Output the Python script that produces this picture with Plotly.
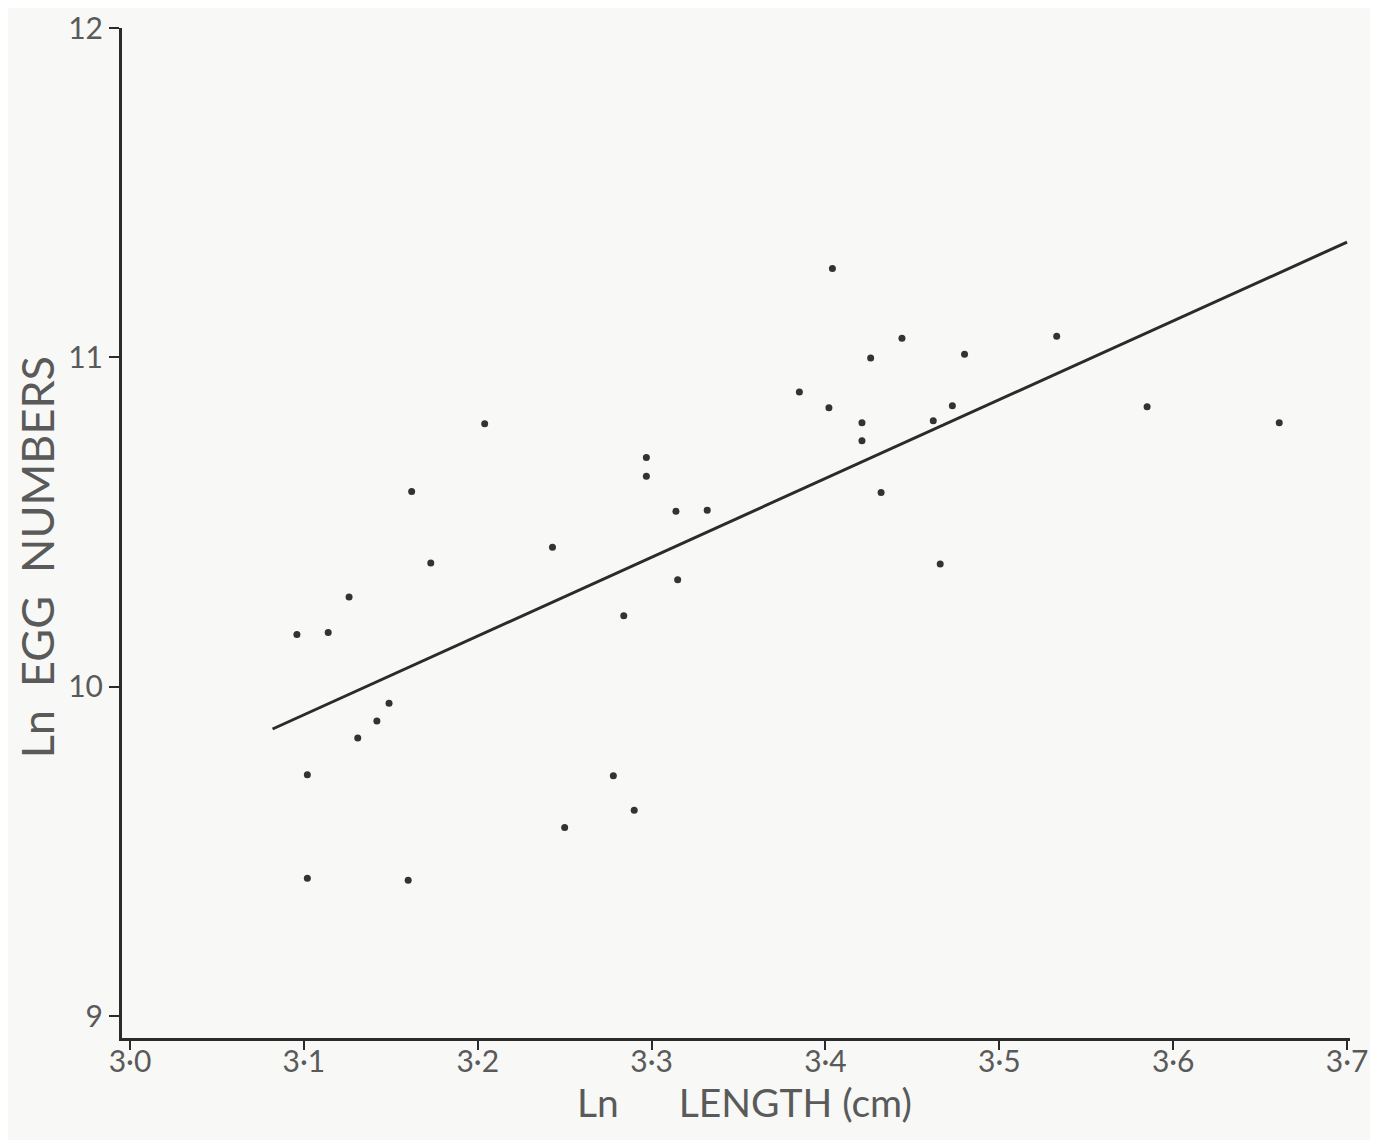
import plotly.graph_objects as go

# Puntos: ln longitud (cm) frente a ln numero de huevos
ln_length = [3.096, 3.114, 3.126, 3.102, 3.102, 3.131, 3.142, 3.149, 3.162, 3.160,
             3.173, 3.204, 3.243, 3.250, 3.278, 3.284, 3.290, 3.297, 3.297, 3.314,
             3.315, 3.332, 3.385, 3.402, 3.404, 3.421, 3.421, 3.426, 3.432, 3.444,
             3.462, 3.466, 3.473, 3.480, 3.533, 3.585, 3.661]
ln_eggs = [10.159, 10.165, 10.273, 9.733, 9.419, 9.845, 9.896, 9.950, 10.593, 9.413,
           10.376, 10.799, 10.424, 9.573, 9.730, 10.216, 9.625, 10.696, 10.639, 10.533,
           10.325, 10.536, 10.895, 10.847, 11.270, 10.802, 10.747, 10.998, 10.590, 11.058,
           10.808, 10.373, 10.853, 11.010, 11.064, 10.850, 10.802]

# Recta de regresion (extremos)
fit_x = [3.082, 3.700]
fit_y = [9.872, 11.350]

# Ticks
x_ticks = [3.0, 3.1, 3.2, 3.3, 3.4, 3.5, 3.6, 3.7]
x_ticktext = ["3·0", "3·1", "3·2", "3·3", "3·4", "3·5", "3·6", "3·7"]
y_ticks = [9, 10, 11, 12]
y_ticktext = ["9", "10", "11", "12"]

ink = "#2b2b2b"
txt = "#5a5a5a"
fuente = "Lato, 'Open Sans', sans-serif"

fig = go.Figure()

fig.add_trace(go.Scatter(
    x=fit_x, y=fit_y, mode="lines",
    line=dict(color=ink, width=3),
    hoverinfo="skip"
))

fig.add_trace(go.Scatter(
    x=ln_length, y=ln_eggs, mode="markers",
    marker=dict(size=7, color="#333333"),
))

# titulos de ejes como anotaciones para colocarlos a mano
fig.add_annotation(
    text="Ln      LENGTH (cm)", xref="paper", yref="paper",
    x=0.507, y=0, yshift=-64, xanchor="center", yanchor="middle",
    showarrow=False, font=dict(size=39, color=txt, family=fuente)
)
fig.add_annotation(
    text="Ln  EGG  NUMBERS", xref="paper", yref="paper",
    x=0, xshift=-85, y=0.476, xanchor="center", yanchor="middle",
    textangle=-90, showarrow=False, font=dict(size=45, color=txt, family=fuente)
)

fig.update_layout(
    width=1370, height=1132,
    showlegend=False,
    paper_bgcolor="#f8f8f6",
    plot_bgcolor="#f8f8f6",
    margin=dict(l=114, r=28, t=20, b=102),
    font=dict(family=fuente, color=txt, size=30),
    xaxis=dict(
        range=[2.9954, 3.7017], automargin=False,
        tickvals=x_ticks, ticktext=x_ticktext,
        ticks="outside", ticklen=9, tickwidth=2, tickcolor=ink,
        showline=True, linecolor=ink, linewidth=3,
        showgrid=False, zeroline=False,
        ticklabeloverflow="allow", ticklabelstandoff=-14,
        tickfont=dict(size=30, color=txt),
    ),
    yaxis=dict(
        range=[8.934, 12.0], automargin=False,
        tickvals=y_ticks, ticktext=y_ticktext,
        ticks="outside", ticklen=10, tickwidth=2, tickcolor=ink,
        showline=True, linecolor=ink, linewidth=3,
        showgrid=False, zeroline=False,
        ticklabeloverflow="allow",
        tickfont=dict(size=30, color=txt),
    ),
)

fig.write_html("out.html")
